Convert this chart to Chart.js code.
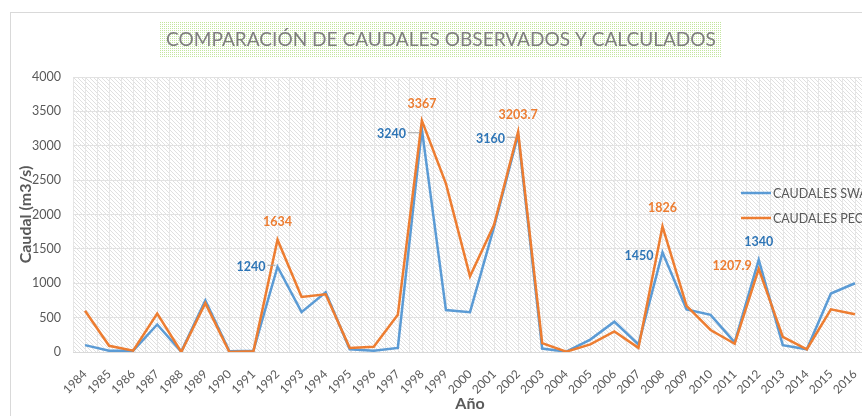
<!DOCTYPE html>
<html>
<head>
<meta charset="utf-8">
<script src="https://cdn.jsdelivr.net/npm/chart.js@4"></script>
<style>
  html, body { margin: 0; padding: 0; background: #fff; overflow: hidden; }
  canvas { display: block; }
</style>
</head>
<body>
<canvas id="caudalChart" width="900" height="416"></canvas>
<script>
  "use strict";

  // years on the x axis
  const years = [
    "1984", "1985", "1986", "1987", "1988", "1989", "1990", "1991", "1992",
    "1993", "1994", "1995", "1996", "1997", "1998", "1999", "2000", "2001",
    "2002", "2003", "2004", "2005", "2006", "2007", "2008", "2009", "2010",
    "2011", "2012", "2013", "2014", "2015", "2016",
  ];

  // caudales SWAT (m3/s)
  const swat = [
    100, 20, 20, 400, 5, 750, 10, 20, 1240, 580, 870, 40, 20, 60, 3240, 610,
    580, 1820, 3160, 50, 5, 180, 440, 110, 1450, 620, 540, 140, 1340, 100, 40,
    850, 1000,
  ];

  // caudales PECH (m3/s)
  const pech = [
    600, 90, 20, 560, 0, 710, 0, 10, 1634, 800, 840, 60, 75, 540, 3367, 2450,
    1100, 1850, 3203.7, 130, 5, 110, 300, 60, 1826, 670, 320, 120, 1207.9, 220,
    40, 620, 550,
  ];

  const yTicks = [0, 500, 1000, 1500, 2000, 2500, 3000, 3500, 4000];
  const labelled = [8, 14, 18, 24, 28];

  const BLUE = "#5B9BD5";
  const ORANGE = "#ED7D31";
  const FONT = "Lato, 'Open Sans', sans-serif";

  // where each data label sits, relative to its point
  const swatLabelPos = {
    8: { dx: -12, dy: 0, align: "right", leader: true },
    14: { dx: -16, dy: 5, align: "right", leader: true },
    18: { dx: -13, dy: 4, align: "right", leader: true },
    24: { dx: -9, dy: 4, align: "right", leader: false },
    28: { dx: 0, dy: -18, align: "center", leader: false },
  };
  const pechLabelPos = {
    8: { dx: 0, dy: -18, align: "center" },
    14: { dx: 0, dy: -17, align: "center" },
    18: { dx: 0, dy: -17, align: "center" },
    24: { dx: 0, dy: -18, align: "center" },
    28: { dx: -7, dy: -3, align: "right" },
  };

  function makePattern(size, draw) {
    const c = document.createElement("canvas");
    c.width = size;
    c.height = size;
    draw(c.getContext("2d"));
    return c;
  }

  const hatchTile = makePattern(4, (g) => {
    g.fillStyle = "#fff";
    g.fillRect(0, 0, 4, 4);
    g.fillStyle = "rgba(0,0,0,0.12)";
    for (let i = 0; i < 4; i++) g.fillRect(i, i, 1, 1);
  });

  const dotTile = makePattern(2, (g) => {
    g.fillStyle = "#fff";
    g.fillRect(0, 0, 2, 2);
    g.fillStyle = "rgba(146,208,80,0.55)";
    g.fillRect(0, 0, 1, 1);
  });

  /**
   * Background, border, hatch, title
   */
  const backdrop = {
    id: "backdrop",
    beforeDraw(chart) {
      const { ctx, chartArea: a } = chart;
      ctx.save();
      ctx.fillStyle = "#fff";
      ctx.fillRect(0, 0, chart.width, chart.height);
      ctx.strokeStyle = "#d9d9d9";
      ctx.lineWidth = 1;
      ctx.strokeRect(10.5, 12.5, chart.width, chart.height);

      ctx.fillStyle = ctx.createPattern(hatchTile, "repeat");
      ctx.fillRect(a.left, a.top, a.right - a.left, a.bottom - a.top);

      // title
      ctx.fillStyle = ctx.createPattern(dotTile, "repeat");
      ctx.fillRect(160, 22, 562, 36);
      let size = 21;
      ctx.font = size + "px " + FONT;
      const text = "COMPARACIÓN DE CAUDALES OBSERVADOS Y CALCULADOS";
      const w = ctx.measureText(text).width;
      size = size * 550 / w;
      ctx.font = size + "px " + FONT;
      ctx.fillStyle = "#7f7f7f";
      ctx.textAlign = "center";
      ctx.textBaseline = "middle";
      ctx.fillText(text, 441, 40);
      ctx.restore();
    },
    beforeDatasetsDraw(chart) {
      // extra vertical gridlines through each category
      const { ctx, chartArea: a } = chart;
      const x = chart.scales.x;
      ctx.save();
      ctx.strokeStyle = "#e6e6e6";
      ctx.lineWidth = 1;
      years.forEach((y, i) => {
        const px = Math.round(x.getPixelForValue(i)) + 0.5;
        ctx.beginPath();
        ctx.moveTo(px, a.top);
        ctx.lineTo(px, a.bottom);
        ctx.stroke();
      });
      ctx.restore();
    },
    afterDatasetsDraw(chart) {
      const { ctx } = chart;
      ctx.save();
      ctx.textBaseline = "middle";

      // data labels
      const drawLabels = (dsIndex, pos, color) => {
        const meta = chart.getDatasetMeta(dsIndex);
        const data = chart.data.datasets[dsIndex].data;
        labelled.forEach((i) => {
          const p = meta.data[i];
          const o = pos[i];
          const tx = p.x + o.dx;
          const ty = p.y + o.dy;
          if (o.leader) {
            ctx.strokeStyle = "#a6a6a6";
            ctx.lineWidth = 1;
            ctx.beginPath();
            ctx.moveTo(tx + 2, ty - 1.5);
            ctx.lineTo(p.x - 2, ty - 1.5);
            ctx.stroke();
          }
          ctx.font = "bold 12.5px " + FONT;
          ctx.fillStyle = color;
          ctx.textAlign = o.align;
          ctx.fillText(String(data[i]), tx, ty);
        });
      };
      drawLabels(0, swatLabelPos, "#2E75B6");
      drawLabels(1, pechLabelPos, ORANGE);

      // legend sitting over the plot
      const rows = [
        { y: 193, color: BLUE },
        { y: 218, color: ORANGE },
      ];
      rows.forEach((r, i) => {
        ctx.strokeStyle = r.color;
        ctx.lineWidth = 2.5;
        ctx.beginPath();
        ctx.moveTo(741, r.y);
        ctx.lineTo(771, r.y);
        ctx.stroke();
        ctx.font = "12.5px " + FONT;
        ctx.fillStyle = "#595959";
        ctx.textAlign = "left";
        ctx.fillText(chart.data.datasets[i].label, 773, r.y + 1);
      });
      ctx.restore();
    },
  };

  new Chart(document.getElementById("caudalChart"), {
    type: "line",
    data: {
      labels: years,
      datasets: [
        {
          label: "CAUDALES SWAT",
          data: swat,
          borderColor: BLUE,
          borderWidth: 2.5,
          pointRadius: 0,
          tension: 0,
          order: 1,
        },
        {
          label: "CAUDALES PECH",
          data: pech,
          borderColor: ORANGE,
          borderWidth: 2.5,
          pointRadius: 0,
          tension: 0,
          order: 0,
        },
      ],
    },
    options: {
      responsive: false,
      animation: false,
      devicePixelRatio: 1,
      layout: {
        padding: { left: 0, right: 33, top: 77, bottom: 0 },
      },
      plugins: {
        legend: { display: false },
        title: { display: false },
        tooltip: { enabled: false },
      },
      scales: {
        x: {
          type: "category",
          offset: true,
          afterFit: (scale) => {
            scale.height = 64;
          },
          grid: {
            offset: true,
            color: "#e6e6e6",
            drawTicks: false,
          },
          border: { color: "#d9d9d9", width: 1 },
          ticks: {
            autoSkip: false,
            minRotation: 45,
            maxRotation: 45,
            padding: 15,
            color: "#595959",
            font: { family: FONT, size: 12 },
          },
          title: {
            display: true,
            text: "Año",
            color: "#595959",
            font: { family: FONT, size: 16, weight: "bold" },
            padding: { top: 0, bottom: 3 },
          },
        },
        y: {
          min: 0,
          max: 4000,
          afterFit: (scale) => {
            scale.width = 73;
          },
          afterBuildTicks: (scale) => {
            scale.ticks = yTicks.map((v) => ({ value: v }));
          },
          grid: {
            color: "#e2e2e2",
            drawTicks: false,
          },
          border: { display: false },
          ticks: {
            padding: 12,
            color: "#595959",
            font: { family: FONT, size: 12.5 },
            callback: (v) => String(v),
          },
          title: {
            display: true,
            text: "Caudal (m3/s)",
            color: "#595959",
            font: { family: FONT, size: 16, weight: "bold" },
            padding: { top: 16, bottom: 0 },
          },
        },
      },
    },
    plugins: [backdrop],
  });
</script>
</body>
</html>
